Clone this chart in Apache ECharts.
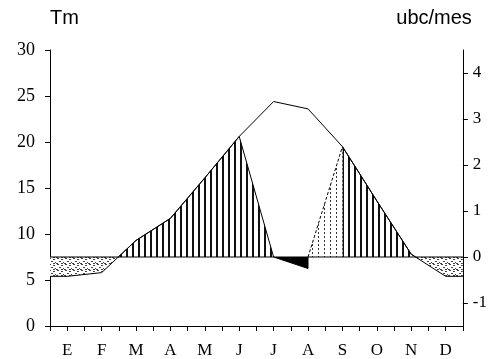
<!DOCTYPE html>
<html>
<head>
<meta charset="utf-8">
<script src="https://cdn.jsdelivr.net/npm/echarts@6/dist/echarts.min.js"></script>
<style>
  html, body { margin: 0; padding: 0; background: #fff; }
  #chart { width: 490px; height: 359px; }
</style>
</head>
<body>
<div id="chart"></div>
<script>
// Month initials (Spanish)
const months = ['E', 'F', 'M', 'A', 'M', 'J', 'J', 'A', 'S', 'O', 'N', 'D'];
// Mean monthly temperature, Tm (°C)
const tm = [5.4, 5.8, 9.3, 11.7, 16.1, 20.6, 24.4, 23.6, 19.5, 13.6, 7.8, 5.4];
// Bioclimatic intensity per month (ubc/mes)
const ubc = [-0.42, -0.34, 0.36, 0.84, 1.72, 2.62, 0.00, -0.25, 2.40, 1.22, 0.06, -0.42];
// Months of the dry spell and of the recovery after it
const dryStart = 6, dryEnd = 7, recovery = 8;
// Tick labels of both axes
const tmTicks = [0, 5, 10, 15, 20, 25, 30];
const ubcTicks = [-1, 0, 1, 2, 3, 4];

// x position of month i on the 0..12 value axis (month centre)
const mx = i => i + 0.5;
// where the intensity line crosses zero between month i and i+1
const cross = i => mx(i) + ubc[i] / (ubc[i] - ubc[i + 1]);

// ---- fill patterns ----
function makeCanvas(w, h, draw) {
  const c = document.createElement('canvas');
  c.width = w; c.height = h;
  const g = c.getContext('2d');
  g.fillStyle = '#fff'; g.fillRect(0, 0, w, h);
  draw(g);
  return c;
}
const vHatch = makeCanvas(6, 6, g => { g.fillStyle = '#111'; g.fillRect(0, 0, 2, 6); });
const vDotted = makeCanvas(6, 4, g => { g.fillStyle = '#333'; g.fillRect(0, 0, 1, 2); });
const stipple = makeCanvas(8, 6, g => {
  g.fillStyle = '#444';
  [[1, 0], [5, 1], [3, 3], [7, 4], [0, 5], [5, 5]].forEach(([x, y]) => g.fillRect(x, y, 2, 1));
});

// ---- polygons (ubc/mes) ----
const c1 = cross(1), c2 = cross(10);
const coldA = [[0, ubc[0]], [mx(0), ubc[0]], [mx(1), ubc[1]], [c1, 0]];
const freeA = [[c1, 0]];
for (let i = 2; i <= dryStart; i++) freeA.push([mx(i), ubc[i]]);
const dry = [[mx(dryStart), ubc[dryStart]], [mx(dryEnd), ubc[dryEnd]], [mx(dryEnd), 0]];
const cond = [[mx(dryEnd), 0], [mx(recovery), ubc[recovery]]];
const freeB = [];
for (let i = recovery; i <= 10; i++) freeB.push([mx(i), ubc[i]]);
freeB.push([c2, 0]);
const coldB = [[c2, 0], [mx(11), ubc[11]], [12, ubc[11]]];

const tmLine = [[0, tm[0]]].concat(tm.map((v, i) => [mx(i), v]), [[12, tm[11]]]);

const chart = echarts.init(document.getElementById('chart'), null, { renderer: 'canvas' });

const areaSeries = (name, data, fill, line) => ({
  name, type: 'line', yAxisIndex: 1, data,
  showSymbol: false, symbol: 'none', silent: true,
  lineStyle: line || { width: 0 },
  areaStyle: { color: fill, opacity: 1 },
  z: 2
});

chart.setOption({
  animation: false,
  backgroundColor: '#fff',
  grid: { left: 50, right: 27, top: 50, bottom: 29 },
  xAxis: {
    type: 'value', min: 0, max: 12, interval: 0.5,
    axisLine: { lineStyle: { color: '#000', width: 1 } },
    axisTick: { length: 5, lineStyle: { color: '#000' } },
    axisLabel: {
      customValues: months.map((m, i) => mx(i)),
      formatter: v => months[Math.floor(v)],
      color: '#000', fontFamily: 'Liberation Serif', fontSize: 17, margin: 16
    },
    splitLine: { show: false }
  },
  yAxis: [
    {
      type: 'value', min: 0, max: 30, interval: 5, position: 'left',
      name: 'Tm', nameLocation: 'end', nameGap: 22,
      nameTextStyle: { color: '#000', fontFamily: 'Liberation Sans', fontSize: 20, align: 'left' },
      axisLine: { show: true, lineStyle: { color: '#000', width: 1 } },
      axisTick: { show: true, length: 5, lineStyle: { color: '#000' } },
      axisLabel: {
        customValues: tmTicks,
        color: '#000', fontFamily: 'Liberation Serif', fontSize: 18, margin: 15
      },
      splitLine: { show: false }
    },
    {
      type: 'value', min: -1.5, max: 4.5, position: 'right',
      name: 'ubc/mes', nameLocation: 'end', nameGap: 22,
      nameTextStyle: { color: '#000', fontFamily: 'Liberation Sans', fontSize: 20, align: 'right', padding: [0, -9, 0, 0] },
      axisLine: { show: true, lineStyle: { color: '#000', width: 1 } },
      axisTick: { show: true, length: 5, customValues: ubcTicks, lineStyle: { color: '#000' } },
      axisLabel: {
        customValues: ubcTicks,
        color: '#000', fontFamily: 'Liberation Serif', fontSize: 17, margin: 10
      },
      splitLine: { show: false }
    }
  ],
  series: [
    areaSeries('fría', coldA, { image: stipple, repeat: 'repeat' }),
    areaSeries('fría', coldB, { image: stipple, repeat: 'repeat' }),
    areaSeries('libre', freeA, { image: vHatch, repeat: 'repeat' }, { color: '#000', width: 1 }),
    areaSeries('libre', freeB, { image: vHatch, repeat: 'repeat' }, { color: '#000', width: 1 }),
    areaSeries('condicionada', cond, { image: vDotted, repeat: 'repeat' }, { color: '#000', width: 1, type: [3, 2] }),
    areaSeries('seca', dry, '#000', { color: '#000', width: 1 }),
    {
      name: 'ubc 0', type: 'line', yAxisIndex: 1, data: [[0, 0], [12, 0]],
      showSymbol: false, symbol: 'none', silent: true,
      lineStyle: { color: '#000', width: 1.2 }, z: 3
    },
    {
      name: 'Tm', type: 'line', yAxisIndex: 0, data: tmLine,
      showSymbol: false, symbol: 'none', silent: true,
      lineStyle: { color: '#000', width: 1 }, z: 4
    }
  ]
});
</script>
</body>
</html>
